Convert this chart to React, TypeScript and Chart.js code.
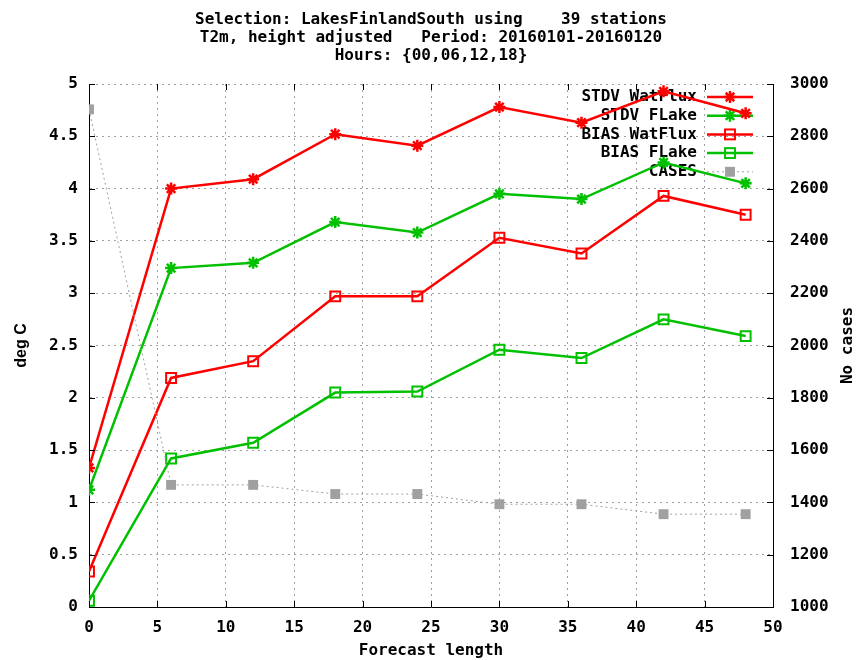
import React, { useEffect, useRef } from 'react';
import { Chart, registerables } from 'chart.js';

Chart.register(...registerables);

// ---- data ----
const forecastHours = [0, 6, 12, 18, 24, 30, 36, 42, 48];
const stdvWatFlux = [1.33, 4.0, 4.09, 4.52, 4.41, 4.78, 4.63, 4.93, 4.72];
const stdvFLake = [1.12, 3.24, 3.29, 3.68, 3.58, 3.95, 3.9, 4.25, 4.05];
const biasWatFlux = [0.34, 2.19, 2.35, 2.97, 2.97, 3.53, 3.38, 3.93, 3.75];
const biasFLake = [0.06, 1.42, 1.57, 2.05, 2.06, 2.46, 2.38, 2.75, 2.59];
const cases = [2903, 1467, 1467, 1432, 1432, 1393, 1393, 1355, 1355];

const seriesLabels = ['STDV WatFlux', 'STDV FLake', 'BIAS WatFlux', 'BIAS FLake', 'CASES'];
const titleLines = [
  'Selection: LakesFinlandSouth using    39 stations',
  'T2m, height adjusted   Period: 20160101-20160120',
  'Hours: {00,06,12,18}',
];
const xAxisTitle = 'Forecast length';
const yAxisTitle = 'deg C';
const y2AxisTitle = 'No cases';

const MONO = "'DejaVu Sans Mono', monospace";
const RED = '#ff0000';
const GREEN = '#00c000';
const GRAY = '#a0a0a0';

const toPoints = (vals: number[]) => vals.map((v, i) => ({ x: forecastHours[i], y: v }));

function drawMarker(ctx: CanvasRenderingContext2D, style: string, x: number, y: number, r: number, color: string, filled: boolean) {
  ctx.save();
  ctx.setLineDash([]);
  ctx.strokeStyle = color;
  ctx.fillStyle = color;
  ctx.lineWidth = 2.5;
  if (style === 'star') {
    ctx.beginPath();
    ctx.moveTo(x - r, y); ctx.lineTo(x + r, y);
    ctx.moveTo(x, y - r); ctx.lineTo(x, y + r);
    const d = r * Math.SQRT1_2;
    ctx.moveTo(x - d, y - d); ctx.lineTo(x + d, y + d);
    ctx.moveTo(x - d, y + d); ctx.lineTo(x + d, y - d);
    ctx.stroke();
  } else {
    const s = r * Math.SQRT1_2;
    if (filled) ctx.fillRect(x - s, y - s, 2 * s, 2 * s);
    else { ctx.lineWidth = 2; ctx.strokeRect(x - s, y - s, 2 * s, 2 * s); }
  }
  ctx.restore();
}

const overlayPlugin = {
  id: 'gnuplotOverlay',
  beforeDatasetsDraw(chart: any) {
    const ctx: CanvasRenderingContext2D = chart.ctx;
    const { right, top } = chart.chartArea;
    const sampleEnd = right - 20;
    const sampleStart = sampleEnd - 46;
    const textRight = sampleStart - 10;
    ctx.save();
    ctx.font = `bold 16px ${MONO}`;
    ctx.textAlign = 'right';
    ctx.textBaseline = 'middle';
    chart.data.datasets.forEach((ds: any, i: number) => {
      const y = top + 13 + i * 18.7;
      ctx.fillStyle = '#000';
      ctx.fillText(ds.label, textRight, y);
      ctx.strokeStyle = ds.borderColor;
      ctx.lineWidth = ds.borderWidth;
      ctx.setLineDash(ds.borderDash || []);
      ctx.beginPath();
      ctx.moveTo(sampleStart, y);
      ctx.lineTo(sampleEnd, y);
      ctx.stroke();
      drawMarker(ctx, ds.pointStyle, (sampleStart + sampleEnd) / 2, y, ds.pointRadius, ds.borderColor, ds.label === 'CASES');
    });
    ctx.restore();
  },
  afterDraw(chart: any) {
    const ctx: CanvasRenderingContext2D = chart.ctx;
    const { left, right, top, bottom } = chart.chartArea;
    ctx.save();
    // inner tick marks (gnuplot style, mirrored)
    ctx.strokeStyle = '#000';
    ctx.lineWidth = 1;
    ctx.setLineDash([]);
    ctx.beginPath();
    const xs = chart.scales.x;
    xs.ticks.forEach((t: any) => {
      const px = Math.round(xs.getPixelForValue(t.value)) + 0.5;
      ctx.moveTo(px, bottom); ctx.lineTo(px, bottom - 6);
      ctx.moveTo(px, top); ctx.lineTo(px, top + 6);
    });
    const ys = chart.scales.y;
    ys.ticks.forEach((t: any) => {
      const py = Math.round(ys.getPixelForValue(t.value)) + 0.5;
      ctx.moveTo(left, py); ctx.lineTo(left + 6, py);
    });
    const y2 = chart.scales.y2;
    y2.ticks.forEach((t: any) => {
      const py = Math.round(y2.getPixelForValue(t.value)) + 0.5;
      ctx.moveTo(right, py); ctx.lineTo(right - 6, py);
    });
    ctx.stroke();

    // title
    ctx.fillStyle = '#000';
    ctx.font = `bold 16px ${MONO}`;
    ctx.textAlign = 'center';
    ctx.textBaseline = 'middle';
    const cx = (left + right) / 2;
    titleLines.forEach((line, i) => {
      ctx.fillText(line, cx, top - 64 + i * 18);
    });

    // right axis title, reading bottom-to-top
    ctx.translate(y2.right - 8, (top + bottom) / 2);
    ctx.rotate(-Math.PI / 2);
    ctx.fillText(y2AxisTitle, 0, 0);
    ctx.restore();
  },
};

export default function App() {
  const canvasRef = useRef<HTMLCanvasElement | null>(null);

  useEffect(() => {
    if (!canvasRef.current) return;
    const tickFont = { family: MONO, size: 16, weight: 'bold' as const };
    const gridCommon = { color: GRAY, lineWidth: 1, drawTicks: false };
    const borderCommon = { color: '#000', width: 1, dash: [2, 4] };
    const plain = (v: any) => String(v);

    const chart = new Chart(canvasRef.current, {
      type: 'line',
      data: {
        datasets: [
          {
            label: seriesLabels[0], data: toPoints(stdvWatFlux), yAxisID: 'y',
            borderColor: RED, backgroundColor: RED, borderWidth: 2.5,
            pointStyle: 'star', pointRadius: 6, pointBorderWidth: 2.5, pointBorderColor: RED, order: 4,
          },
          {
            label: seriesLabels[1], data: toPoints(stdvFLake), yAxisID: 'y',
            borderColor: GREEN, backgroundColor: GREEN, borderWidth: 2.5,
            pointStyle: 'star', pointRadius: 6, pointBorderWidth: 2.5, pointBorderColor: GREEN, order: 3,
          },
          {
            label: seriesLabels[2], data: toPoints(biasWatFlux), yAxisID: 'y',
            borderColor: RED, backgroundColor: 'rgba(0,0,0,0)', borderWidth: 2.5,
            pointStyle: 'rect', pointRadius: 7, pointBorderWidth: 2, pointBorderColor: RED,
            pointBackgroundColor: 'rgba(0,0,0,0)', order: 2,
          },
          {
            label: seriesLabels[3], data: toPoints(biasFLake), yAxisID: 'y',
            borderColor: GREEN, backgroundColor: 'rgba(0,0,0,0)', borderWidth: 2.5,
            pointStyle: 'rect', pointRadius: 7, pointBorderWidth: 2, pointBorderColor: GREEN,
            pointBackgroundColor: 'rgba(0,0,0,0)', order: 1,
          },
          {
            label: seriesLabels[4], data: toPoints(cases), yAxisID: 'y2',
            borderColor: GRAY, backgroundColor: GRAY, borderWidth: 1, borderDash: [2, 3],
            pointStyle: 'rect', pointRadius: 7, pointBorderWidth: 0,
            pointBackgroundColor: GRAY, order: 0,
          },
        ],
      },
      options: {
        animation: false,
        responsive: false,
        devicePixelRatio: 1,
        layout: { padding: { top: 84, left: 0, right: 0, bottom: 0 } },
        plugins: {
          legend: { display: false },
          tooltip: { enabled: false },
          title: { display: false },
        },
        scales: {
          x: {
            type: 'linear',
            min: 0,
            max: 50,
            ticks: { stepSize: 5, font: tickFont, color: '#000', padding: 11, maxRotation: 0, callback: plain },
            grid: gridCommon,
            border: borderCommon,
            title: {
              display: true, text: xAxisTitle, color: '#000',
              font: { family: MONO, size: 16, weight: 'bold', lineHeight: 1.125 },
              padding: { top: 0, bottom: 0 },
            },
            afterFit: (s: any) => { s.height = 53; },
          },
          y: {
            type: 'linear',
            position: 'left',
            min: 0,
            max: 5,
            ticks: { stepSize: 0.5, font: tickFont, color: '#000', padding: 11, callback: plain },
            grid: gridCommon,
            border: borderCommon,
            title: {
              display: true, text: yAxisTitle, color: '#000',
              font: { family: "'Liberation Sans', Arial, sans-serif", size: 16, weight: 'bold', lineHeight: 1.2 },
              padding: { top: 12, bottom: 0 },
            },
            afterFit: (s: any) => { s.width = 89; },
          },
          y2: {
            type: 'linear',
            position: 'right',
            min: 1000,
            max: 3000,
            ticks: { stepSize: 200, font: tickFont, color: '#000', padding: 17, callback: plain },
            grid: { drawOnChartArea: false, drawTicks: false },
            border: { color: '#000', width: 1 },
            afterFit: (s: any) => { s.width = 83; },
          },
        },
      },
      plugins: [overlayPlugin],
    } as any);
    return () => chart.destroy();
  }, []);

  return (
    <div style={{ position: 'absolute', left: 0, top: 0, width: 856, height: 660, background: '#fff' }}>
      <canvas ref={canvasRef} width={856} height={660} style={{ display: 'block' }} />
    </div>
  );
}
